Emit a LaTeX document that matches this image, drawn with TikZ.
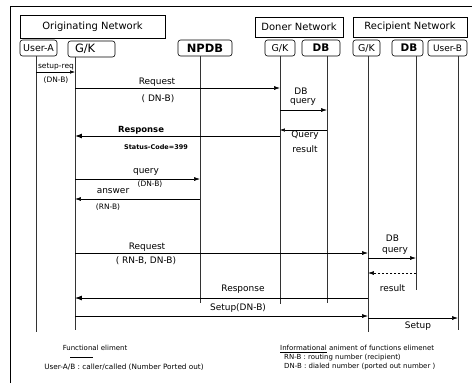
\documentclass[tikz,border=0pt]{standalone}
\usepackage{fontspec}
\setmainfont{DejaVu Sans}
\usetikzlibrary{arrows.meta}
\begin{document}
\begin{tikzpicture}[x=1bp,y=-1bp,
  fs/.style={font={\fontsize{#1}{#1}\selectfont}},
  fsb/.style={font={\fontsize{#1}{#1}\selectfont\bfseries}},
  netbox/.style={draw, line width=0.6pt, inner sep=0pt, fs=10},
  actor/.style={draw, line width=0.6pt, rounded corners=2.5pt, inner sep=0pt},
  life/.style={line width=0.55pt, black!80},
  msg/.style={line width=0.6pt, -{Latex[length=6pt,width=4pt]}},
  lbl/.style={inner sep=0pt, fs=9},
  lgd/.style={inner sep=0pt, fs=7}]
\useasboundingbox (0,0) rectangle (472,383);
% outer frame (left and top)
\draw[line width=0.6pt] (10,383) -- (10,6) -- (472,6);

% network title boxes
\node[netbox, minimum width=145bp, minimum height=23bp] (orig) at (92.5,26.5) {Originating Network};
\node[netbox, minimum width=88bp, minimum height=20bp] (doner) at (299,27) {Doner Network};
\node[netbox, minimum width=114bp, minimum height=20bp] (recip) at (410,27) {Recipient Network};

% actor boxes
\node[actor, fs=9.5, minimum width=37bp, minimum height=16bp] (ua) at (38.5,48) {User-A};
\node[actor, fs=11.5, minimum width=47bp, minimum height=16bp, text width=39bp, align=left, inner xsep=4bp] (gk) at (91.5,49) {\hspace*{3bp}G/K};
\node[actor, fsb=11.5, minimum width=54bp, minimum height=16bp] (npdb) at (205,48) {NPDB};
\node[actor, fs=9.5, minimum width=30bp, minimum height=16bp] (dgk) at (280,48) {G/K};
\node[actor, fsb=10.5, minimum width=38bp, minimum height=16bp] (ddb) at (321,48) {DB};
\node[actor, fs=9.5, minimum width=27bp, minimum height=16bp] (rgk) at (366.5,48) {G/K};
\node[actor, fsb=10.5, minimum width=31bp, minimum height=16bp] (rdb) at (407.5,48) {\hspace*{3bp}DB};
\node[actor, fs=9, minimum width=39bp, minimum height=16bp] (ub) at (447.5,48) {User-B};

% lifeline bottoms
\coordinate (xA) at (36,332);
\coordinate (xG) at (75,330);
\coordinate (xN) at (200,303);
\coordinate (xDG) at (280,304);
\coordinate (xDD) at (327,303);
\coordinate (xRG) at (368,332);
\coordinate (xRD) at (416,290);
\coordinate (xUB) at (458,330);

\draw[life] (xA |- ua.south) -- (xA);
\draw[life] (xG |- gk.south) -- (xG);
\draw[life] (xN |- npdb.south) -- (xN);
\draw[life] (xDG |- dgk.south) -- (xDG);
\draw[life] (xDD |- ddb.south) -- (xDD);
\draw[life] (xRG |- rgk.south) -- (xRG);
\draw[life] (xRD |- rdb.south) -- (xRD);
\draw[life] (xUB |- ub.south) -- (xUB);

% message rows
\coordinate (m1) at (0,72);
\coordinate (m2) at (0,88);
\coordinate (m3) at (0,110);
\coordinate (m4) at (0,130);
\coordinate (m5) at (0,136);
\coordinate (m6) at (0,179);
\coordinate (m7) at (0,199);
\coordinate (m8) at (0,253);
\coordinate (m9) at (0,258);
\coordinate (m10) at (0,273);
\coordinate (m11) at (0,298);
\coordinate (m12) at (0,316);
\coordinate (m13) at (0,318);

% 1 setup-req
\draw[line width=0.5pt, -{Latex[length=5pt,width=3.5pt]}] (xA |- m1) -- (xG |- m1);
\node[lgd, fs=7.5] (t1a) at (56,67) {setup-req};
\node[lgd, fs=7.5] (t1b) at (56,80) {(DN-B)};
% 2 Request
\draw[msg] (xG |- m2) -- (xDG |- m2);
\node[lbl] (t2a) at (157,82) {Request};
\node[lbl] (t2b) at (158,99) {( DN-B)};
% 3 DB query
\draw[msg] (xDG |- m3) -- (xDD |- m3);
\node[lbl] (t3a) at (301,91) {DB};
\node[lbl] (t3b) at (303,102) {query};
% 4 Query result
\draw[line width=0.5pt, -{Latex[length=5pt,width=3.5pt]}] (xDD |- m4) -- (xDG |- m4);
\node[lbl] (t4a) at (305,135.5) {Query};
\node[lbl] (t4b) at (305,149) {result};
% 5 Response (bold)
\draw[line width=1pt, -{Latex[length=7pt,width=5pt]}] (xDG |- m5) -- (xG |- m5);
\node[inner sep=0pt, fsb=8.5] (t5a) at (141,130) {Response};
\node[inner sep=0pt, fsb=6.5] (t5b) at (156,147) {Status-Code=399};
% 6 query to NPDB
\draw[msg] (xG |- m6) -- (xN |- m6);
\node[lbl] (t6a) at (146,172) {query};
\node[lgd, fs=7.5] (t6b) at (150,184.5) {(DN-B)};
% 7 answer
\draw[msg] (xN |- m7) -- (xG |- m7);
\node[lbl] (t7a) at (113,191) {answer};
\node[lgd, fs=7.5] (t7b) at (108,207) {(RN-B)};
% 8 Request to recipient
\draw[msg] (xG |- m8) -- (xRG |- m8);
\node[lbl] (t8a) at (147,247) {Request};
\node[lbl] (t8b) at (146,261) {( RN-B, DN-B)};
% 9 DB query recipient
\draw[msg] (xRG |- m9) -- (xRD |- m9);
\node[lbl] (t9a) at (392.5,238) {DB};
\node[lbl] (t9b) at (395,251) {query};
% 10 result dashed
\draw[line width=0.6pt, dash pattern=on 2.5pt off 1.5pt, -{Latex[length=6pt,width=4pt]}] (xRD |- m10) -- (xRG |- m10);
\node[lbl] (t10) at (392.5,288) {result};
% 11 Response
\draw[line width=0.8pt, -{Latex[length=7pt,width=5pt]}] (xRG |- m11) -- (xG |- m11);
\node[lbl] (t11) at (243,289) {Response};
% 12 Setup(DN-B)
\draw[msg] (xG |- m12) -- (xRG |- m12);
\node[lbl] (t12) at (238,308) {Setup(DN-B)};
% 13 Setup
\draw[msg] (xRG |- m13) -- (xUB |- m13);
\node[lbl] (t13) at (418,326) {Setup};

% legend left
\node[lgd] (lg1) at (95,348) {Functional eliment};
\draw[line width=0.8pt] (70,357) -- (93,357);
\node[lgd, fs=7.3] (lg2) at (124,367) {User-A/B : caller/called (Number Ported out)};
% legend right
\node[lgd, anchor=west] (lg3) at (280,349) {\underline{Informational} animent of functions elimenet};
\node[lgd, anchor=west] (lg4) at (284,358) {RN-B : routing number (recipient)};
\node[lgd, anchor=west] (lg5) at (284,367) {DN-B : dialed number (ported out number )};
\end{tikzpicture}
\end{document}
